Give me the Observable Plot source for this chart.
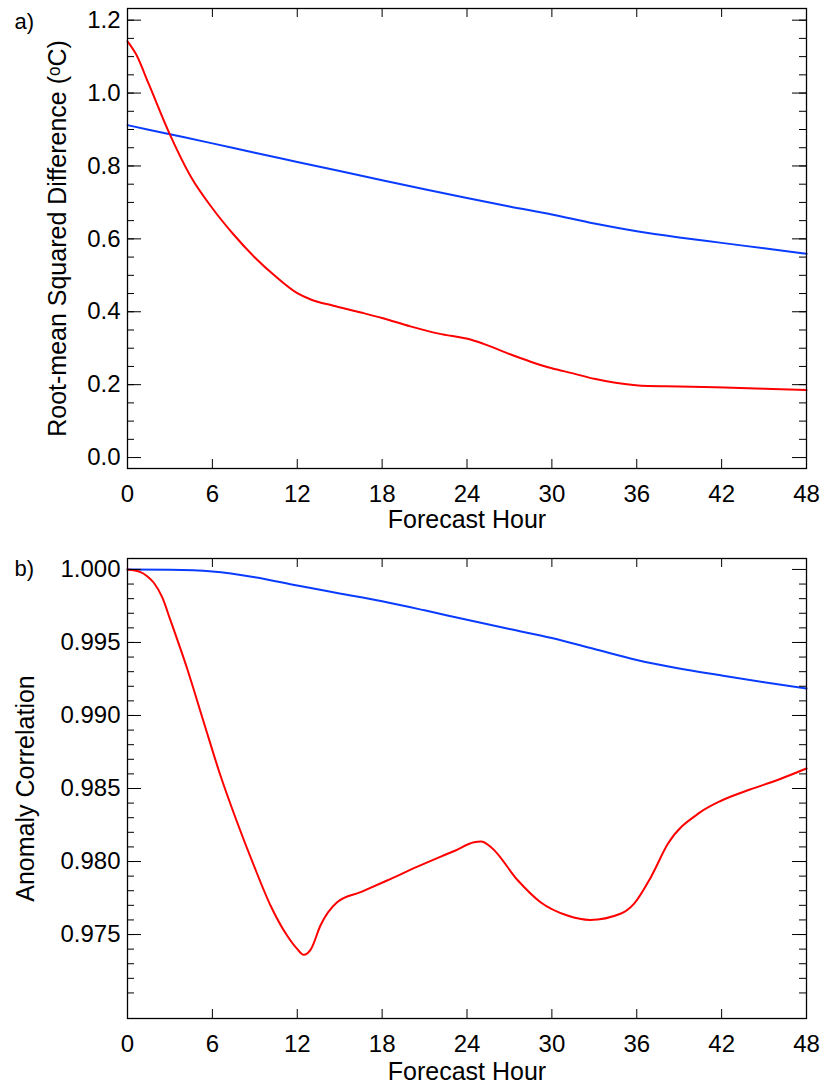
<!DOCTYPE html>
<html><head><meta charset="utf-8">
<script src="https://cdn.jsdelivr.net/npm/d3@7"></script>
<script src="https://cdn.jsdelivr.net/npm/@observablehq/plot@0.6"></script>
<style>
body{margin:0;background:#fff;}
#chart svg{display:block;}
</style>
</head><body><div id="chart"></div>
<script>
// ---------- data ----------
const xTicks = [0, 6, 12, 18, 24, 30, 36, 42, 48];

// Panel a: root-mean squared difference (°C)
const rmsdRedHours = [0, 0.6, 1.5, 3, 4.5, 6, 7.5, 9, 10.5, 12, 13, 14.5, 16.5, 18, 20, 22, 24.3, 25.5, 27, 28.5, 30, 31.5, 33, 34.5, 36.8, 39, 42.2, 45, 48];
const rmsdRed = [1.142, 1.107, 1.025, 0.886, 0.769, 0.684, 0.612, 0.549, 0.496, 0.451, 0.433, 0.417, 0.398, 0.383, 0.360, 0.340, 0.323, 0.307, 0.284, 0.263, 0.245, 0.231, 0.216, 0.205, 0.196, 0.195, 0.192, 0.189, 0.185];
const rmsdBlueHours = [0, 3, 6, 9, 12, 15, 18, 21, 24, 27, 30, 33, 36, 39, 42, 45, 48];
const rmsdBlue = [0.912, 0.887, 0.862, 0.836, 0.811, 0.786, 0.761, 0.736, 0.712, 0.689, 0.667, 0.642, 0.621, 0.604, 0.589, 0.574, 0.559];

// Panel b: anomaly correlation
const acRedHours = [0, 0.92, 1.39, 1.86, 2.45, 3.04, 4.22, 5.39, 6.57, 7.75, 8.93, 10.11, 11.28, 11.99, 12.46, 12.98, 13.64, 14.82, 16.47, 18.35, 20.5, 22.15, 23.1, 24.5, 25.0, 25.7, 27.6, 29.2, 31.1, 32.7, 34.85, 35.8, 37.0, 38.2, 40.5, 42, 44, 46, 48];
const acRed = [1.0, 0.99982, 0.99954, 0.99909, 0.9981, 0.99651, 0.9932, 0.98954, 0.98589, 0.98269, 0.97973, 0.97699, 0.97493, 0.97402, 0.97361, 0.97402, 0.97562, 0.97721, 0.9779, 0.9787, 0.97965, 0.98034, 0.98072, 0.98132, 0.98137, 0.98098, 0.9787, 0.97721, 0.9763, 0.976, 0.97642, 0.9771, 0.97893, 0.98121, 0.98338, 0.98418, 0.98493, 0.9856, 0.98637];
const acBlueHours = [0, 3, 6, 9, 12, 15, 18, 21, 24, 27, 30, 33, 36, 39, 42, 45, 48];
const acBlue = [1.0, 0.99998, 0.99986, 0.99947, 0.9989, 0.99836, 0.99782, 0.9972, 0.99655, 0.99592, 0.9953, 0.99455, 0.9938, 0.99322, 0.99274, 0.99228, 0.99185];

const rmsdMajor = [0, 0.2, 0.4, 0.6, 0.8, 1.0, 1.2];
const rmsdMinor = d3.range(1, 25).map(i => i * 0.05);
const acMajor = [0.975, 0.980, 0.985, 0.990, 0.995, 1.000];
const acMinor = d3.range(971, 1000).map(i => i / 1000);

const RED = "#ff0000", BLUE = "#0a3cff";
const FONT = "Liberation Sans, Arial, Helvetica, sans-serif";

const zip = (hs, vs) => hs.map((h, i) => ({h, v: vs[i]}));

// ---------- layout constants ----------
const W = 824, ML = 127, MR = 18;
const PW = W - ML - MR;

function panel({height, mt, mb, domain, major, minor, fmt, red, blue, title, titleDx, tag, tagDy, xTitleDy}) {
  const PH = height - mt - mb;
  return Plot.plot({
    width: W, height,
    marginLeft: ML, marginRight: MR, marginTop: mt, marginBottom: mb,
    style: {fontFamily: FONT, background: "#fff", color: "#000"},
    x: {domain: [0, 48]},
    y: {domain},
    marks: [
      Plot.line(blue, {x: "h", y: "v", stroke: BLUE, strokeWidth: 2, curve: "monotone-x"}),
      Plot.line(red, {x: "h", y: "v", stroke: RED, strokeWidth: 2, curve: "monotone-x"}),
      // inward ticks: left / right
      Plot.tickY(major, {y: d => d, insetRight: PW - 14, stroke: "#000", strokeWidth: 1}),
      Plot.tickY(minor, {y: d => d, insetRight: PW - 7, stroke: "#000", strokeWidth: 1}),
      Plot.tickY(major, {y: d => d, insetLeft: PW - 14, stroke: "#000", strokeWidth: 1}),
      Plot.tickY(minor, {y: d => d, insetLeft: PW - 7, stroke: "#000", strokeWidth: 1}),
      // inward ticks: bottom / top
      Plot.tickX(xTicks, {x: d => d, insetTop: PH - 9, stroke: "#000", strokeWidth: 1}),
      Plot.tickX(xTicks, {x: d => d, insetBottom: PH - 9, stroke: "#000", strokeWidth: 1}),
      Plot.frame({stroke: "#000", strokeWidth: 1.3}),
      Plot.axisY(major, {anchor: "left", tickSize: 0, tickPadding: 7, tickFormat: d3.format(fmt), fontSize: 24, label: null}),
      Plot.axisX(xTicks, {anchor: "bottom", tickSize: 0, tickPadding: 16, tickFormat: d => String(d), fontSize: 24, label: null}),
      Plot.text([title], {frameAnchor: "left", text: d => d, rotate: -90, dx: titleDx, fontSize: 25, lineAnchor: "middle", textAnchor: "middle", fill: "#000"}),
      Plot.text(["Forecast Hour"], {frameAnchor: "bottom", text: d => d, dy: xTitleDy, fontSize: 25, lineAnchor: "middle", fill: "#000"}),
      Plot.text([tag], {frameAnchor: "top-left", text: d => d, dx: 14 - ML, dy: tagDy, fontSize: 22, textAnchor: "start", lineAnchor: "top", fill: "#000"})
    ]
  });
}

const chart = document.getElementById("chart");
chart.append(panel({
  height: 540, mt: 8, mb: 72,
  domain: [-0.03, 1.232], major: rmsdMajor, minor: rmsdMinor, fmt: ".1f",
  red: zip(rmsdRedHours, rmsdRed), blue: zip(rmsdBlueHours, rmsdBlue),
  title: "Root-mean Squared Difference (ᵒC)", titleDx: -70,
  tag: "a)", tagDy: 5, xTitleDy: 51
}));
chart.append(panel({
  height: 545, mt: 18, mb: 67,
  domain: [0.96925, 1.00075], major: acMajor, minor: acMinor, fmt: ".3f",
  red: zip(acRedHours, acRed), blue: zip(acBlueHours, acBlue),
  title: "Anomaly Correlation", titleDx: -102,
  tag: "b)", tagDy: 2, xTitleDy: 53
}));
</script>
</body></html>
